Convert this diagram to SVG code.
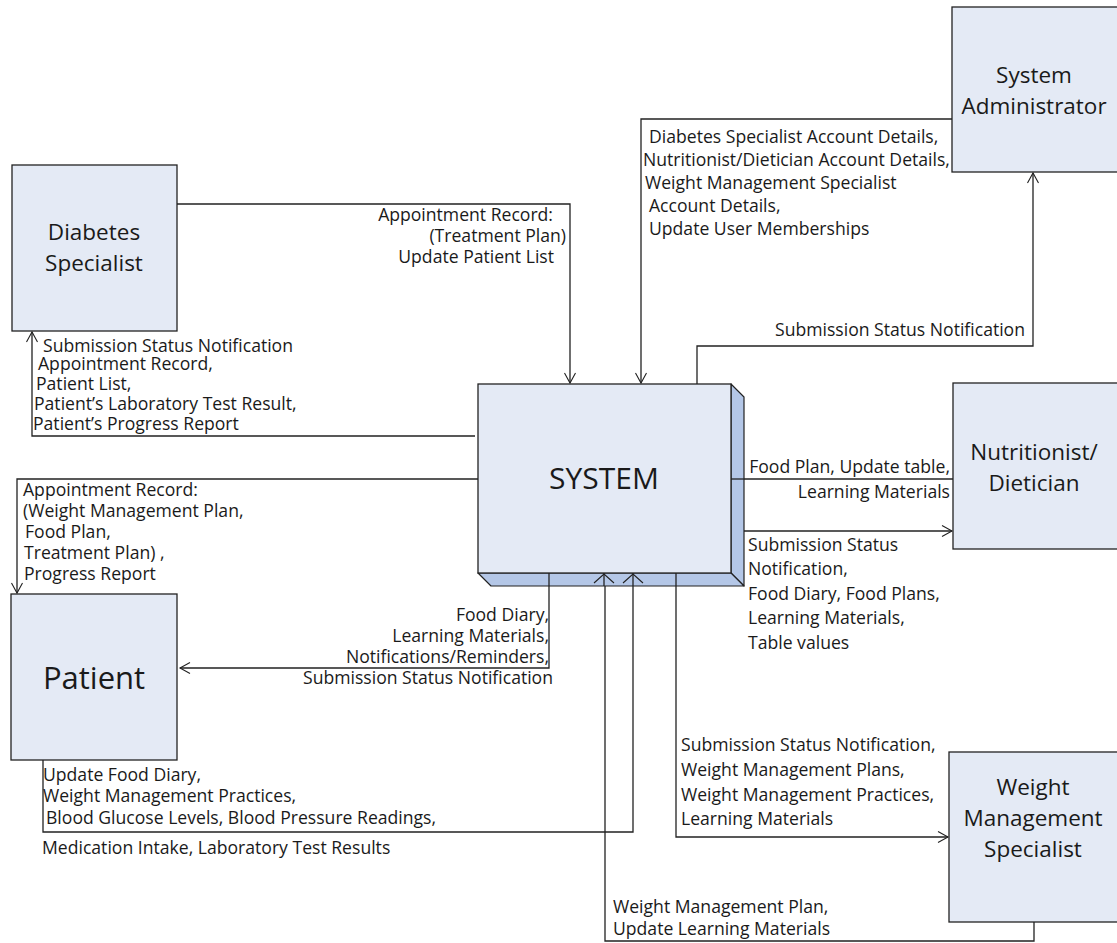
<svg xmlns="http://www.w3.org/2000/svg" width="1117" height="943" viewBox="0 0 1117 943">
<defs>
<marker id="arr" viewBox="-12 -7 14 14" markerWidth="14" markerHeight="14" refX="0" refY="0" orient="auto" markerUnits="userSpaceOnUse">
<path d="M-10,-5.5 L0,0 L-10,5.5" fill="none" stroke="#222" stroke-width="1.1"/>
</marker>
<style>
.node{fill:#e4eaf5;stroke:#222;stroke-width:1.3}
.side{fill:#b4c7e7;stroke:#222;stroke-width:1.2;stroke-linejoin:round}
.c{fill:none;stroke:#222;stroke-width:1.3;marker-end:url(#arr)}
.cn{fill:none;stroke:#222;stroke-width:1.3}
.t{font-family:"Open Sans",Lato,sans-serif;font-size:17.6px;fill:#1a1a1a}
.e{text-anchor:end}
.n{font-family:"Open Sans",Lato,sans-serif;font-size:22.5px;fill:#1a1a1a;text-anchor:middle}
</style>
</defs>
<rect width="1117" height="943" fill="#fff"/>

<g id="connectors">
<path class="c" d="M177,204 H570 V383"/>
<path class="c" d="M475,436 H32 V332"/>
<path class="c" d="M952,119 H641 V383"/>
<path class="c" d="M697,384 V346 H1033 V173"/>
<path class="c" d="M953,479 H732"/>
<path class="c" d="M738,531 H952"/>
<path class="c" d="M478,479 H17 V593"/>
<path class="c" d="M549,586 V668 H180"/>
<path class="c" d="M43,760 V832 H633 V574"/>
<path class="c" d="M676,586 V837 H948"/>
<path class="c" d="M1034,922 V941 H605 V574"/>
</g>

<g id="system">
<polygon class="side" points="731,384 744,397 744,586 731,573"/>
<polygon class="side" points="478,573 731,573 744,586 491,586"/>
<rect class="node" x="478" y="384" width="253" height="189"/>
<line class="cn" x1="604" y1="573" x2="604" y2="586"/>
<line class="cn" x1="633" y1="573" x2="633" y2="586"/>
<line class="cn" x1="549" y1="573" x2="549" y2="586"/>
<line class="cn" x1="676" y1="573" x2="676" y2="586"/>
<line class="cn" x1="731" y1="479" x2="744" y2="479"/>
<path d="M614,583 L604,574 L594,583 M643,583 L633,574 L623,583" fill="none" stroke="#222" stroke-width="1.1"/>
<text class="n" x="604" y="489" style="font-size:30px">SYSTEM</text>
</g>

<g id="diabetes-specialist">
<rect class="node" x="12" y="165" width="165" height="166"/>
<text class="n" x="94" y="240">Diabetes</text>
<text class="n" x="94" y="271">Specialist</text>
</g>

<g id="system-administrator">
<rect class="node" x="952" y="7" width="175" height="165"/>
<text class="n" x="1034" y="83">System</text>
<text class="n" x="1034" y="114">Administrator</text>
</g>

<g id="nutritionist">
<rect class="node" x="953" y="383" width="175" height="166"/>
<text class="n" x="1034" y="460">Nutritionist/</text>
<text class="n" x="1034" y="491">Dietician</text>
</g>

<g id="patient">
<rect class="node" x="11" y="594" width="166" height="166"/>
<text class="n" x="94" y="689" style="font-size:31px">Patient</text>
</g>

<g id="weight-management-specialist">
<rect class="node" x="949" y="752" width="175" height="170"/>
<text class="n" x="1033" y="795">Weight</text>
<text class="n" x="1033" y="826">Management</text>
<text class="n" x="1033" y="857">Specialist</text>
</g>

<g id="labels">
<text class="t e" x="553" y="221">Appointment Record:</text>
<text class="t e" x="566" y="242">(Treatment Plan)</text>
<text class="t e" x="554" y="263">Update Patient List</text>

<text class="t" x="43" y="352">Submission Status Notification</text>
<text class="t" x="38" y="370">Appointment Record,</text>
<text class="t" x="36" y="390">Patient List,</text>
<text class="t" x="34" y="410">Patient’s Laboratory Test Result,</text>
<text class="t" x="33" y="430">Patient’s Progress Report</text>

<text class="t" x="649" y="143">Diabetes Specialist Account Details,</text>
<text class="t" x="643" y="166">Nutritionist/Dietician Account Details,</text>
<text class="t" x="645" y="189">Weight Management Specialist</text>
<text class="t" x="649" y="212">Account Details,</text>
<text class="t" x="649" y="235">Update User Memberships</text>

<text class="t" x="775" y="336">Submission Status Notification</text>

<text class="t e" x="950" y="473">Food Plan, Update table,</text>
<text class="t e" x="950" y="498">Learning Materials</text>

<text class="t" x="748" y="551">Submission Status</text>
<text class="t" x="748" y="575">Notification,</text>
<text class="t" x="748" y="600">Food Diary, Food Plans,</text>
<text class="t" x="748" y="624">Learning Materials,</text>
<text class="t" x="748" y="649">Table values</text>

<text class="t" x="23" y="496">Appointment Record:</text>
<text class="t" x="23" y="517">(Weight Management Plan,</text>
<text class="t" x="25" y="538">Food Plan,</text>
<text class="t" x="24" y="559">Treatment Plan) ,</text>
<text class="t" x="24" y="580">Progress Report</text>

<text class="t e" x="549" y="621">Food Diary,</text>
<text class="t e" x="549" y="642">Learning Materials,</text>
<text class="t e" x="549" y="663">Notifications/Reminders,</text>
<text class="t e" x="553" y="684">Submission Status Notification</text>

<text class="t" x="43" y="781">Update Food Diary,</text>
<text class="t" x="43" y="802">Weight Management Practices,</text>
<text class="t" x="46" y="824">Blood Glucose Levels, Blood Pressure Readings,</text>
<text class="t" x="42" y="854">Medication Intake, Laboratory Test Results</text>

<text class="t" x="681" y="751">Submission Status Notification,</text>
<text class="t" x="681" y="776">Weight Management Plans,</text>
<text class="t" x="681" y="801">Weight Management Practices,</text>
<text class="t" x="681" y="825">Learning Materials</text>

<text class="t" x="613" y="913">Weight Management Plan,</text>
<text class="t" x="613" y="935">Update Learning Materials</text>
</g>
</svg>
